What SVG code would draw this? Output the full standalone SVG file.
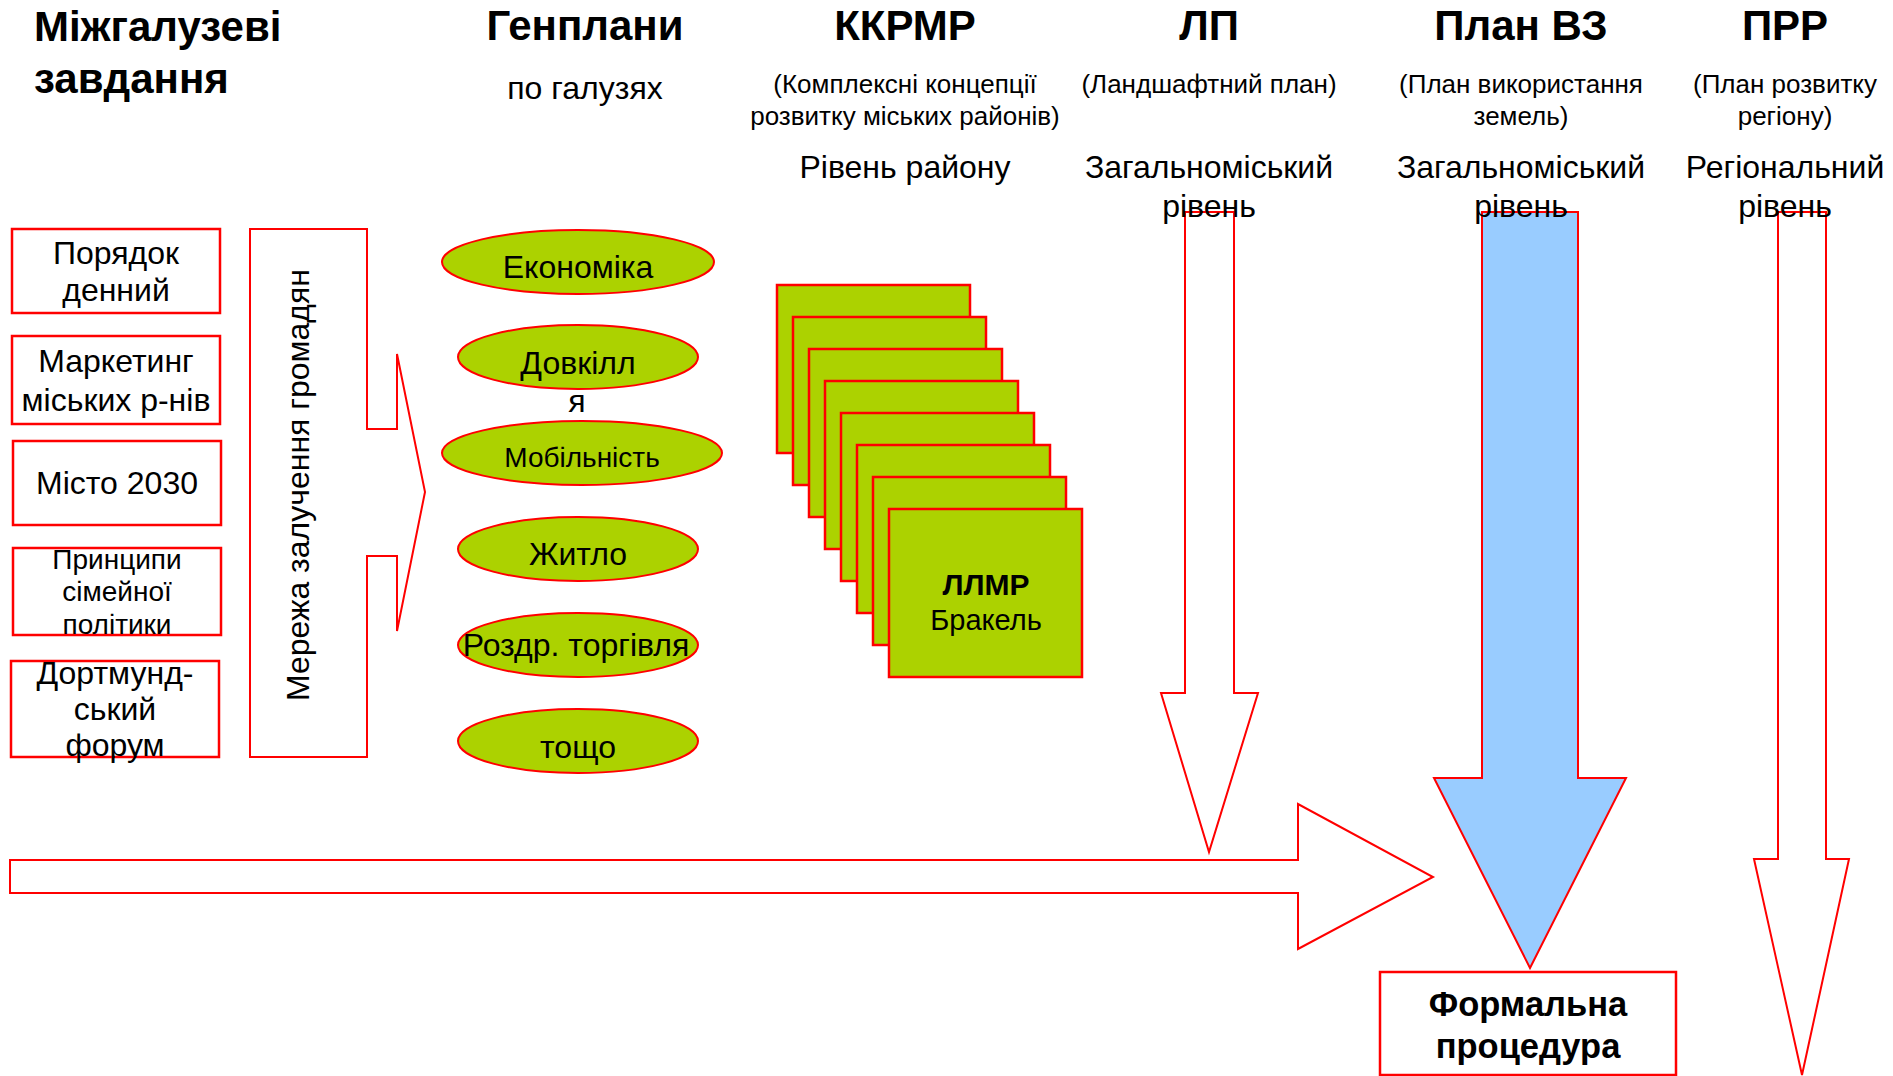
<svg xmlns="http://www.w3.org/2000/svg" width="1893" height="1076" viewBox="0 0 1893 1076">
<style>
text{font-family:"Liberation Sans",Arial,sans-serif;fill:#000}
.h{font-size:42px;font-weight:bold}
.s{font-size:26px;text-anchor:middle}
.l{font-size:32px;text-anchor:middle}
.m{text-anchor:middle}
.box{fill:#fff;stroke:#ff0000;stroke-width:2.5}
.ell{fill:#acd200;stroke:#ff0000;stroke-width:2}
.sq{fill:#acd200;stroke:#ff0000;stroke-width:2.5}
.arr{fill:#fff;stroke:#ff0000;stroke-width:2}
</style>
<rect width="1893" height="1076" fill="#fff"/>

<g id="connectors">
<polygon class="arr" stroke-width="3" points="10,860 1298,860 1298,804 1433,877 1298,949 1298,893 10,893"/>
<polygon class="arr" points="1185,212 1234,212 1234,693 1258,693 1209,852 1161,693 1185,693"/>
<polygon class="arr" style="fill:#99ccff" points="1482,212 1578,212 1578,778 1626,778 1530,968 1434,778 1482,778"/>
<polygon class="arr" points="1778,212 1826,212 1826,859 1849,859 1802,1075 1754,859 1778,859"/>
</g>

<g id="headers">
<text class="h" x="34" y="41">Міжгалузеві</text>
<text class="h" x="34" y="93">завдання</text>
<text class="h m" x="585" y="40">Генплани</text>
<text class="l" x="585" y="99">по галузях</text>
<text class="h m" x="905" y="40">ККРМР</text>
<text class="s" x="905" y="93">(Комплексні концепції</text>
<text class="s" x="905" y="125">розвитку міських районів)</text>
<text class="l" x="905" y="178">Рівень району</text>
<text class="h m" x="1209" y="40">ЛП</text>
<text class="s" x="1209" y="93">(Ландшафтний план)</text>
<text class="l" x="1209" y="178">Загальноміський</text>
<text class="l" x="1209" y="217">рівень</text>
<text class="h m" x="1521" y="40">План ВЗ</text>
<text class="s" x="1521" y="93">(План використання</text>
<text class="s" x="1521" y="125">земель)</text>
<text class="l" x="1521" y="178">Загальноміський</text>
<text class="l" x="1521" y="217">рівень</text>
<text class="h m" x="1785" y="40">ПРР</text>
<text class="s" x="1785" y="93">(План розвитку</text>
<text class="s" x="1785" y="125">регіону)</text>
<text class="l" x="1785" y="178">Регіональний</text>
<text class="l" x="1785" y="217">рівень</text>
</g>

<g id="node-poryadok">
<rect class="box" x="12" y="229" width="208" height="84"/>
<text class="l" x="116" y="264">Порядок</text>
<text class="l" x="116" y="301">денний</text>
</g>
<g id="node-marketing">
<rect class="box" x="12" y="336" width="208" height="88"/>
<text class="l" x="116" y="372">Маркетинг</text>
<text class="l" x="116" y="411">міських р-нів</text>
</g>
<g id="node-misto">
<rect class="box" x="13" y="441" width="208" height="84"/>
<text class="l" x="117" y="494">Місто 2030</text>
</g>
<g id="node-pryntsypy">
<rect class="box" x="13" y="548" width="208" height="87"/>
<text class="l" x="117" y="569" style="font-size:28px">Принципи</text>
<text class="l" x="117" y="601" style="font-size:28px">сімейної</text>
<text class="l" x="117" y="634" style="font-size:28px">політики</text>
</g>
<g id="node-forum">
<rect class="box" x="11" y="661" width="208" height="96"/>
<text class="l" x="115" y="684">Дортмунд-</text>
<text class="l" x="115" y="720">ський</text>
<text class="l" x="115" y="756">форум</text>
</g>

<g id="node-merezha">
<polygon class="arr" points="250,229 367,229 367,429 397,429 397,354 425,492 397,631 397,556 367,556 367,757 250,757"/>
<text class="l" transform="translate(309,485) rotate(-90)">Мережа залучення громадян</text>
</g>

<g id="node-ekonomika">
<ellipse class="ell" cx="578" cy="262" rx="136" ry="32"/>
<text class="l" x="578" y="278">Економіка</text>
</g>
<g id="node-dovkillya">
<ellipse class="ell" cx="578" cy="357" rx="120" ry="32"/>
<text class="l" x="578" y="374">Довкілл</text>
<text class="l" x="577" y="412">я</text>
</g>
<g id="node-mobilnist">
<ellipse class="ell" cx="582" cy="453" rx="140" ry="32"/>
<text class="l" x="582" y="467" style="font-size:28px">Мобільність</text>
</g>
<g id="node-zhytlo">
<ellipse class="ell" cx="578" cy="549" rx="120" ry="32"/>
<text class="l" x="578" y="565">Житло</text>
</g>
<g id="node-torgivlya">
<ellipse class="ell" cx="578" cy="645" rx="120" ry="32"/>
<text class="l" x="576" y="656">Роздр. торгівля</text>
</g>
<g id="node-toshcho">
<ellipse class="ell" cx="578" cy="741" rx="120" ry="32"/>
<text class="l" x="578" y="758">тощо</text>
</g>

<g id="node-llmr">
<rect class="sq" x="777" y="285" width="193" height="168"/>
<rect class="sq" x="793" y="317" width="193" height="168"/>
<rect class="sq" x="809" y="349" width="193" height="168"/>
<rect class="sq" x="825" y="381" width="193" height="168"/>
<rect class="sq" x="841" y="413" width="193" height="168"/>
<rect class="sq" x="857" y="445" width="193" height="168"/>
<rect class="sq" x="873" y="477" width="193" height="168"/>
<rect class="sq" x="889" y="509" width="193" height="168"/>
<text class="m" x="986" y="595" style="font-size:30px;font-weight:bold">ЛЛМР</text>
<text class="m" x="986" y="630" style="font-size:29px">Бракель</text>
</g>

<g id="node-formal">
<rect class="box" x="1380" y="972" width="296" height="103"/>
<text class="m" x="1528" y="1016" style="font-size:34.5px;font-weight:bold">Формальна</text>
<text class="m" x="1528" y="1058" style="font-size:34.5px;font-weight:bold">процедура</text>
</g>
</svg>
